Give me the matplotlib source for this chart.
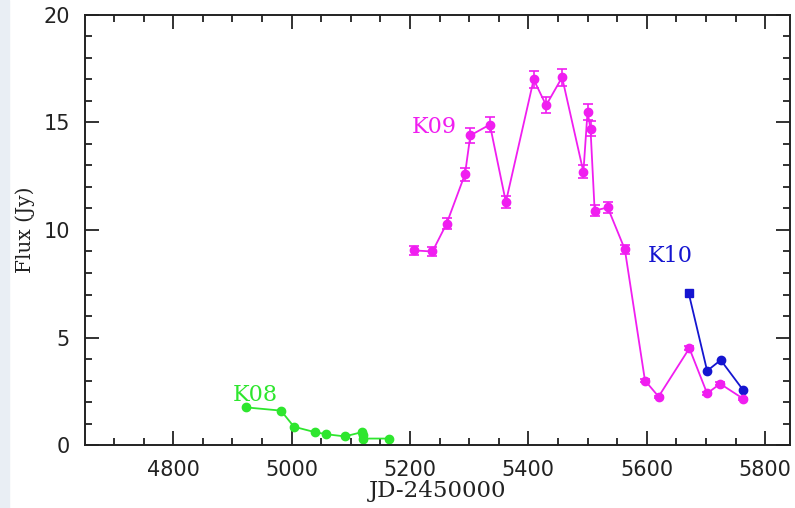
import numpy as np
import matplotlib
matplotlib.use('Agg')
import matplotlib.pyplot as plt
from matplotlib.ticker import MultipleLocator
from matplotlib.patches import Rectangle

# K08 (green)
k08_jd = [4923, 4982, 5004, 5039, 5059, 5090, 5119, 5121, 5121, 5164]
k08_flux = [1.75, 1.6, 0.85, 0.6, 0.5, 0.4, 0.6, 0.45, 0.3, 0.3]

# K09 (magenta)
k09_jd = [5207, 5238, 5262, 5293, 5302, 5335, 5362, 5409, 5430, 5457,
          5493, 5500, 5505, 5512, 5534, 5563, 5597, 5620, 5672, 5702, 5724, 5763]
k09_flux = [9.05, 9.0, 10.3, 12.6, 14.4, 14.9, 11.3, 17.0, 15.8, 17.1,
            12.7, 15.5, 14.7, 10.9, 11.05, 9.1, 3.0, 2.25, 4.5, 2.4, 2.85, 2.15]
k09_err = [0.22, 0.22, 0.25, 0.3, 0.35, 0.35, 0.28, 0.4, 0.38, 0.4,
           0.3, 0.37, 0.35, 0.26, 0.27, 0.22, 0.07, 0.05, 0.1, 0.06, 0.07, 0.05]

# K10 (blue)
k10_jd = [5671, 5702, 5725, 5763]
k10_flux = [7.05, 3.45, 3.95, 2.55]

green = '#2ee62e'
magenta = '#f01ef0'
blue = '#1515d0'
ink = '#222222'

fig = plt.figure(figsize=(7.95, 5.08), dpi=100)
# faint strip on the left edge, as in the scanned figure
fig.patches.append(Rectangle((0, 0), 9 / 795, 1, transform=fig.transFigure,
                             color='#e9eef4', zorder=-1))
ax = fig.add_axes([0.1069, 0.124, 0.8868, 0.8465])

ax.plot(k08_jd, k08_flux, '-o', color=green, ms=6, lw=1.3)
ax.errorbar(k09_jd, k09_flux, yerr=k09_err, fmt='-o', color=magenta, ms=6, lw=1.3,
            elinewidth=1.2, capsize=3.5, capthick=1.2)
ax.plot(k10_jd[:1], k10_flux[:1], 's', color=blue, ms=6)
ax.plot(k10_jd, k10_flux, '-', color=blue, lw=1.3)
ax.plot(k10_jd[1:], k10_flux[1:], 'o', color=blue, ms=6)

ax.text(4901, 2.05, 'K08', color=green, fontsize=16, family='DejaVu Serif')
ax.text(5203, 14.5, 'K09', color=magenta, fontsize=16, family='DejaVu Serif')
ax.text(5602, 8.5, 'K10', color=blue, fontsize=16, family='DejaVu Serif')

ax.set_xlim(4651, 5842)
ax.set_ylim(0, 20)
ax.xaxis.set_major_locator(MultipleLocator(200))
ax.xaxis.set_minor_locator(MultipleLocator(50))
ax.yaxis.set_major_locator(MultipleLocator(5))
ax.yaxis.set_minor_locator(MultipleLocator(1))
ax.tick_params(which='both', direction='in', top=True, right=True, width=1.3,
               labelsize=15, colors=ink)
ax.tick_params(which='major', length=10, pad=11)
ax.tick_params(which='minor', length=5)
for s in ax.spines.values():
    s.set_linewidth(1.4)
    s.set_color(ink)

ax.set_xlabel('JD-2450000', fontsize=16.5, family='DejaVu Serif', labelpad=0, color=ink)
ax.set_ylabel('Flux (Jy)', fontsize=14.5, family='DejaVu Serif', labelpad=6, color=ink)

fig.savefig('out.png', dpi=100)
